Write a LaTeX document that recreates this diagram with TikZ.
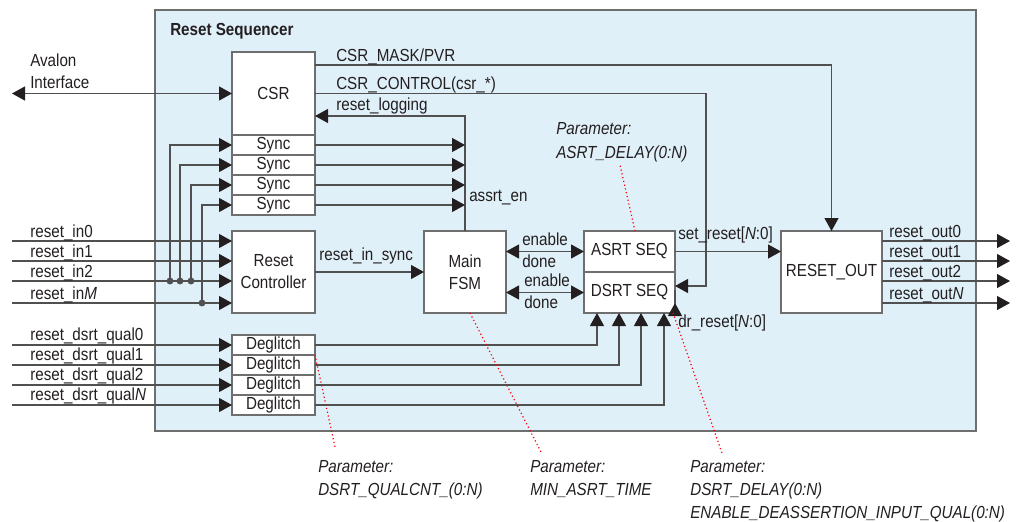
\documentclass[tikz,border=0pt]{standalone}
\usepackage{fontspec}
\setmainfont{Liberation Sans}[FakeStretch=0.87]
\usetikzlibrary{arrows.meta,positioning,calc}
\definecolor{seqbg}{HTML}{E0F0F9}
\definecolor{wirec}{HTML}{505050}
\definecolor{boxc}{HTML}{6E6E6E}
\definecolor{tipc}{HTML}{231F20}

\begin{document}
\begin{tikzpicture}[x=0.75pt, y=-0.75pt, font=\fontsize{13.1}{16.5}\selectfont, text=tipc,
  blk/.style={draw=boxc, fill=white, line width=0.8pt, inner sep=0pt, outer sep=0pt, align=center},
  sig/.style={draw=wirec, line width=0.9pt, -{Triangle[length=9.75pt, width=10.5pt, color=tipc]}},
  dsig/.style={sig, {Triangle[length=9.75pt, width=10.5pt, color=tipc]}-{Triangle[length=9.75pt, width=10.5pt, color=tipc]}},
  txt/.style={inner sep=0pt, anchor=base west},
  parm/.style={txt, font=\fontsize{13.1}{16.5}\selectfont\itshape},
  note/.style={draw=red, dotted, line width=0.9pt}]
\useasboundingbox (0,0) rectangle (1016,521);
\draw[draw=boxc, fill=seqbg, line width=0.8pt] (155,10) rectangle (976,431);
\node[txt, font=\fontsize{13.1}{16.5}\selectfont\bfseries] (title) at (170,35) {Reset Sequencer};

\node[blk, minimum width=62.25pt, minimum height=62.25pt] (csr) at (273.5,93.5) {CSR};
\node[blk, minimum width=62.25pt, minimum height=15pt, below=0pt of csr] (s1) {Sync};
\node[blk, minimum width=62.25pt, minimum height=15pt, below=0pt of s1] (s2) {Sync};
\node[blk, minimum width=62.25pt, minimum height=15pt, below=0pt of s2] (s3) {Sync};
\node[blk, minimum width=62.25pt, minimum height=15pt, below=0pt of s3] (s4) {Sync};
\node[blk, minimum width=62.25pt, minimum height=61.5pt] (rc) at (273.5,272) {Reset\\Controller};
\node[blk, minimum width=62.25pt, minimum height=15pt] (dg1) at (273.5,345) {Deglitch};
\node[blk, minimum width=62.25pt, minimum height=15pt, below=0pt of dg1] (dg2) {Deglitch};
\node[blk, minimum width=62.25pt, minimum height=15pt, below=0pt of dg2] (dg3) {Deglitch};
\node[blk, minimum width=62.25pt, minimum height=15pt, below=0pt of dg3] (dg4) {Deglitch};
\node[blk, minimum width=61.5pt, minimum height=61.5pt] (fsm) at (465,272) {Main\\FSM};
\node[blk, minimum width=68.25pt, minimum height=30.75pt] (asrt) at (629.5,251.5) {ASRT SEQ};
\node[blk, minimum width=68.25pt, minimum height=30.75pt, below=0pt of asrt] (dsrt) {DSRT SEQ};
\node[blk, minimum width=75.75pt, minimum height=61.5pt] (rout) at (831.5,272) {RESET\_OUT};

\coordinate (av) at (12,93.5);
\draw[dsig] (av) -- (csr.west);
\node[txt] (avl) at (30,66) {Avalon};
\node[txt] (avi) at (30,88) {Interface};

\draw[sig] ($(csr.north east)+(0,13)$) -| (rout.north);
\node[txt] (lmask) at (336,61) {CSR\_MASK/PVR};
\draw[sig] (csr.east) -| ($(dsrt.north east)+(31,14)$) -- ($(dsrt.north east)+(0,14)$);
\node[txt] (lctl) at (336,89) {CSR\_CONTROL(csr\_*)};
\coordinate (lg) at (465,116);
\draw[sig] (fsm.north) -- (lg) -- (lg -| csr.east);
\node[txt] (llog) at (336,110) {reset\_logging};
\foreach \i in {1,...,4}
  \draw[sig] (s\i.east) -- (s\i.east -| fsm.north);
\node[txt] (len) at (469,201) {assrt\_en};

\foreach \i/\y/\t in {0/241/0, 1/261/1, 2/281/2, 3/303/\textit{M}} {
  \coordinate (in\i) at (12,\y);
  \draw[sig] (in\i) -- (in\i -| rc.west);
  \node[txt] (lin\i) at (30,\y-3.5) {reset\_in\t};
}
\foreach \i/\x/\y in {1/170/281, 2/180/281, 3/191/281, 4/202/303} {
  \coordinate (j\i) at (\x,\y);
  \draw[sig] (j\i) |- (s\i.west);
  \fill[wirec] (j\i) circle (2.6pt);
}

\foreach \i/\y/\t in {1/345/0, 2/365/1, 3/385/2, 4/405/\textit{N}} {
  \coordinate (q\i) at (12,\y);
  \draw[sig] (q\i) -- (q\i -| dg\i.west);
  \node[txt] (lq\i) at (30,\y-5) {reset\_dsrt\_qual\t};
}
\foreach \i/\o in {1/13, 2/35, 3/57, 4/80}
  \draw[sig] (dg\i.east) -| ($(dsrt.south west)+(\o,0)$);

\draw[sig] (rc.east) -- (fsm.west);
\node[txt] (lsync) at (319,260) {reset\_in\_sync};
\draw[dsig] (fsm.east |- asrt.west) -- (asrt.west);
\node[txt] (le1) at (522,245) {enable};
\node[txt] (ld1) at (522,267) {done};
\draw[dsig] (fsm.east |- dsrt.west) -- (dsrt.west);
\node[txt] (le2) at (524,286) {enable};
\node[txt] (ld2) at (524,308) {done};

\draw[sig] (asrt.east) -- (asrt.east -| rout.west);
\node[txt] (lset) at (678,239) {set\_reset[\textit{N}:0]};
\draw[sig] ($(dsrt.south east)+(0,-10)$) -- ($(dsrt.south east)+(0,-10)$ -| rout.west);
\node[txt] (ldr) at (678,327) {dr\_reset[\textit{N}:0]};

\foreach \i/\y/\t in {0/241/0, 1/261/1, 2/281/2, 3/303/\textit{N}} {
  \coordinate (out\i) at (1010,\y);
  \draw[sig] (out\i -| rout.east) -- (out\i);
  \node[txt] (lout\i) at (889,\y-4) {reset\_out\t};
}

\node[parm] (p4a) at (556,134) {Parameter:};
\node[parm] (p4b) at (556,158) {ASRT\_DELAY(0:N)};
\node[parm] (p1a) at (318,472) {Parameter:};
\node[parm] (p1b) at (318,495) {DSRT\_QUALCNT\_(0:N)};
\node[parm] (p2a) at (530,472) {Parameter:};
\node[parm] (p2b) at (530,495) {MIN\_ASRT\_TIME};
\node[parm] (p3a) at (690,472) {Parameter:};
\node[parm] (p3b) at (690,495) {DSRT\_DELAY(0:N)};
\node[parm] (p3c) at (690,518) {ENABLE\_DEASSERTION\_INPUT\_QUAL(0:N)};

\coordinate (n1) at (335,447);
\coordinate (n2) at (541,452);
\coordinate (n3) at (722,453);
\coordinate (n4) at (620,165);
\draw[note] (dg2.north east) -- (n1);
\draw[note] ($(fsm.south)+(5,0)$) -- (n2);
\draw[note] ($(dsrt.south east)+(-2,0)$) -- (n3);
\draw[note] ($(asrt.north west)+(51,0)$) -- (n4);
\end{tikzpicture}
\end{document}
